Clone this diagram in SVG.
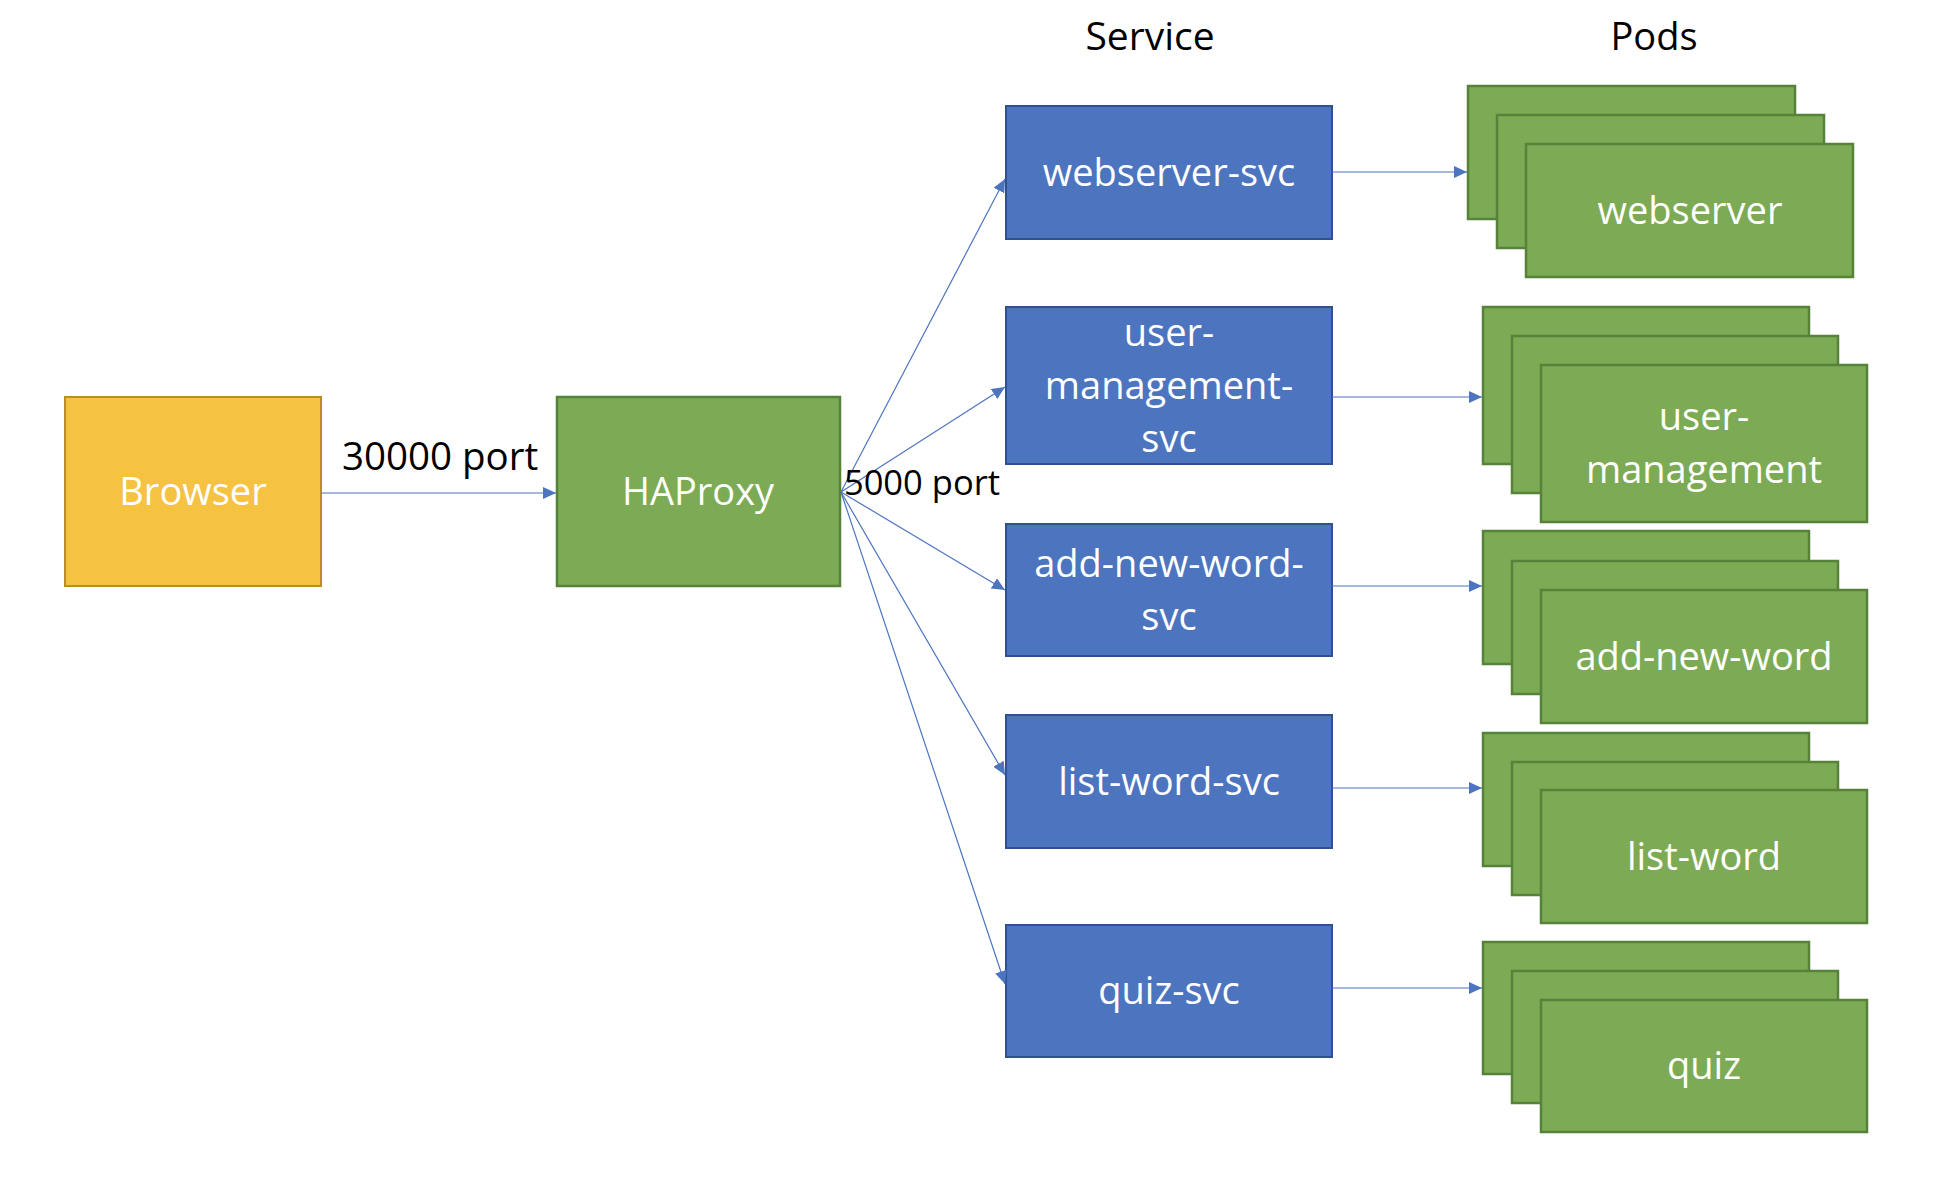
<svg xmlns="http://www.w3.org/2000/svg" width="1934" height="1182" viewBox="0 0 1934 1182">
  <style>
    text { font-family: "Open Sans", "Noto Sans", "Liberation Sans", sans-serif; font-size: 38px; text-anchor: middle; }
    .w { fill: #ffffff; }
    .k { fill: #000000; }
    .svc { fill: #4D74BE; stroke: #2F528F; stroke-width: 2; }
    .pod { fill: #7DAA54; stroke: #56823A; stroke-width: 2.5; }
    .browser { fill: #F5C242; stroke: #BC8C26; stroke-width: 2; }
    .conn line { stroke: #4D74BE; stroke-width: 1.2; fill: none; marker-end: url(#arr); }
  </style>
  <defs>
    <marker id="arr" markerWidth="14" markerHeight="12" refX="13" refY="6" orient="auto" markerUnits="userSpaceOnUse">
      <path d="M0,0 L13,6 L0,12 Z" fill="#4D74BE"/>
    </marker>
  </defs>
  <rect width="1934" height="1182" fill="#ffffff"/>

  <text class="k" x="1150" y="50" style="font-size:39px">Service</text>
  <text class="k" x="1654" y="50">Pods</text>

  <g id="browser">
    <rect class="browser" x="65" y="397" width="256" height="189"/>
    <text class="w" x="193" y="505">Browser</text>
  </g>
  <g id="haproxy">
    <rect class="pod" x="557" y="397" width="283" height="189"/>
    <text class="w" x="698" y="505">HAProxy</text>
  </g>

  <g id="webserver-svc">
    <rect class="svc" x="1006" y="106" width="326" height="133"/>
    <text class="w" x="1169" y="186">webserver-svc</text>
  </g>
  <g id="user-management-svc">
    <rect class="svc" x="1006" y="307" width="326" height="157"/>
    <text class="w" x="1169" y="346">user-</text>
    <text class="w" x="1169" y="399">management-</text>
    <text class="w" x="1169" y="452">svc</text>
  </g>
  <g id="add-new-word-svc">
    <rect class="svc" x="1006" y="524" width="326" height="132"/>
    <text class="w" x="1169" y="577">add-new-word-</text>
    <text class="w" x="1169" y="630">svc</text>
  </g>
  <g id="list-word-svc">
    <rect class="svc" x="1006" y="715" width="326" height="133"/>
    <text class="w" x="1169" y="795">list-word-svc</text>
  </g>
  <g id="quiz-svc">
    <rect class="svc" x="1006" y="925" width="326" height="132"/>
    <text class="w" x="1169" y="1004">quiz-svc</text>
  </g>

  <g id="webserver-pods">
    <rect class="pod" x="1468" y="86" width="327" height="133"/>
    <rect class="pod" x="1497" y="115" width="327" height="133"/>
    <rect class="pod" x="1526" y="144" width="327" height="133"/>
    <text class="w" x="1690" y="224">webserver</text>
  </g>
  <g id="user-management-pods">
    <rect class="pod" x="1483" y="307" width="326" height="157"/>
    <rect class="pod" x="1512" y="336" width="326" height="157"/>
    <rect class="pod" x="1541" y="365" width="326" height="157"/>
    <text class="w" x="1704" y="430">user-</text>
    <text class="w" x="1704" y="483">management</text>
  </g>
  <g id="add-new-word-pods">
    <rect class="pod" x="1483" y="531" width="326" height="133"/>
    <rect class="pod" x="1512" y="561" width="326" height="133"/>
    <rect class="pod" x="1541" y="590" width="326" height="133"/>
    <text class="w" x="1704" y="670">add-new-word</text>
  </g>
  <g id="list-word-pods">
    <rect class="pod" x="1483" y="733" width="326" height="133"/>
    <rect class="pod" x="1512" y="762" width="326" height="133"/>
    <rect class="pod" x="1541" y="790" width="326" height="133"/>
    <text class="w" x="1704" y="870">list-word</text>
  </g>
  <g id="quiz-pods">
    <rect class="pod" x="1483" y="942" width="326" height="132"/>
    <rect class="pod" x="1512" y="971" width="326" height="132"/>
    <rect class="pod" x="1541" y="1000" width="326" height="132"/>
    <text class="w" x="1704" y="1079">quiz</text>
  </g>

  <g id="connectors" class="conn">
    <line x1="321" y1="493" x2="556" y2="493"/>
    <line x1="841" y1="492" x2="1005" y2="179"/>
    <line x1="841" y1="492" x2="1005" y2="387"/>
    <line x1="841" y1="492" x2="1005" y2="590"/>
    <line x1="841" y1="492" x2="1005" y2="775"/>
    <line x1="841" y1="492" x2="1005" y2="984"/>
    <line x1="1332" y1="172" x2="1467" y2="172"/>
    <line x1="1332" y1="397" x2="1482" y2="397"/>
    <line x1="1332" y1="586" x2="1482" y2="586"/>
    <line x1="1332" y1="788" x2="1482" y2="788"/>
    <line x1="1332" y1="988" x2="1482" y2="988"/>
  </g>
  <g id="labels">
    <text class="k" x="440" y="470" style="font-size:38.5px">30000 port</text>
    <text class="k" x="922" y="495" style="font-size:34.5px">5000 port</text>
  </g>
</svg>
